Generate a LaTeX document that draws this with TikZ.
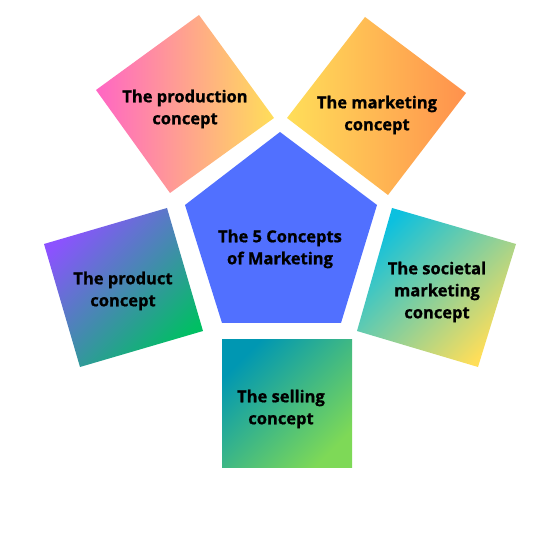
\documentclass[tikz,border=0pt]{standalone}
\usepackage{fontspec}
\setmainfont{Open Sans}[BoldFeatures={FakeBold=1}]
\definecolor{pentablue}{HTML}{5170FF}
\definecolor{pinkC}{HTML}{FF66C4}
\definecolor{yellowC}{HTML}{FFDE59}
\definecolor{orangeC}{HTML}{FF914D}
\definecolor{purpleC}{HTML}{8C52FF}
\definecolor{greenC}{HTML}{00BF63}
\definecolor{cyanC}{HTML}{0CC0DF}
\definecolor{tealC}{HTML}{0097B2}
\definecolor{limeC}{HTML}{7ED957}
\begin{document}
\begin{tikzpicture}[x=1pt, y=1pt,
  concept/.style={font=\bfseries\fontsize{16.5}{22}\selectfont, align=center, text=black, inner sep=0pt}]
\useasboundingbox (0,0) rectangle (560,534);

\shade[left color=pinkC, right color=yellowC] (199,519) -- (274,416) -- (170,341) -- (96,444) -- cycle;
\shade[left color=yellowC, right color=orangeC] (365,517) -- (466,441) -- (388,339) -- (287,416) -- cycle;
\shade[top color=purpleC, bottom color=greenC, shading angle=45] (44,290) -- (167,326) -- (203,203) -- (80,167) -- cycle;
\shade[top color=cyanC, bottom color=yellowC, shading angle=45] (392,326) -- (516,290) -- (478,167) -- (357,203) -- cycle;
\shade[top color=tealC, bottom color=limeC, shading angle=45] (222,194) rectangle (352,66);

\fill[pentablue] (280,402) -- (377,329) -- (341,211) -- (222,211) -- (185,329) -- cycle;

\node[concept] (core) at (280,285) {The 5 Concepts\\of Marketing};
\node[concept] (production) at (185,425) {The production\\concept};
\node[concept] (marketing) at (377,419) {The marketing\\concept};
\node[concept] (product) at (123,243) {The product\\concept};
\node[concept] (societal) at (437,242) {The societal\\marketing\\concept};
\node[concept] (selling) at (281,125) {The selling\\concept};
\end{tikzpicture}
\end{document}
